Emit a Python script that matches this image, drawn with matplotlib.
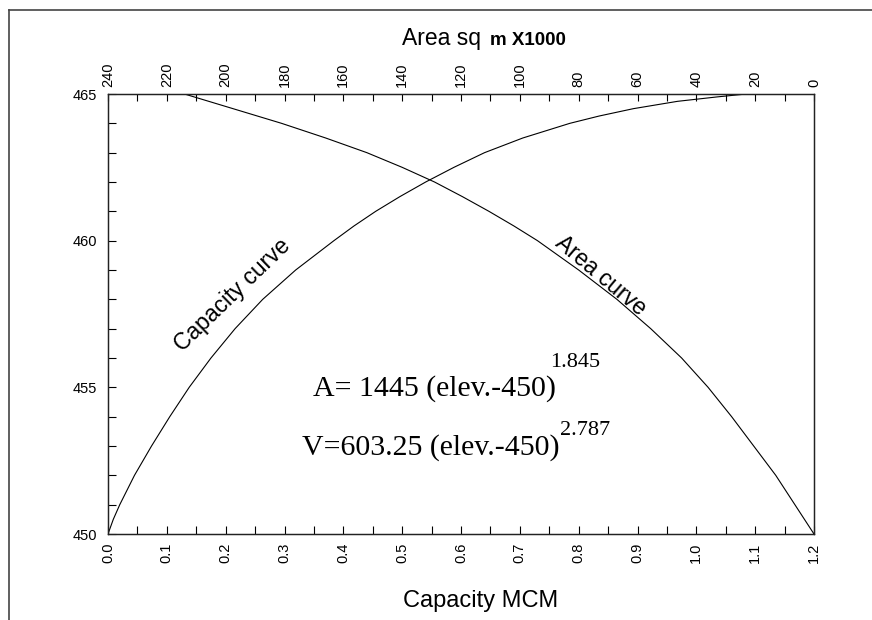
import matplotlib.pyplot as plt
from matplotlib.ticker import MultipleLocator, FormatStrFormatter

# elevation (m) vs capacity (MCM)
cap_elev = [450, 450.5, 451, 452, 453, 454, 455, 456, 457, 458, 459, 460, 460.5,
            461, 461.5, 462, 462.5, 463, 463.5, 464, 464.25, 464.5, 464.75, 464.9, 465]
cap_mcm = [0.0, 0.009, 0.02, 0.045, 0.074, 0.105, 0.138, 0.175, 0.216, 0.263, 0.319, 0.384, 0.418,
           0.455, 0.496, 0.54, 0.588, 0.64, 0.705, 0.785, 0.835, 0.893, 0.968, 1.035, 1.085]

# elevation (m) vs area (sq m x1000)
area_elev = [450, 451, 452, 453, 454, 455, 456, 457, 458, 459, 460,
             460.5, 461, 461.5, 462, 462.5, 463, 463.5, 464, 464.5, 465]
area_k = [0.0, 6.5, 13.0, 20.5, 28.0, 36.0, 45.0, 55.5, 67.0, 80.0, 94.0,
          102.0, 110.5, 119.5, 129.0, 140.0, 152.0, 166.0, 181.0, 197.5, 214.0]

W, H = 872, 620
fig = plt.figure(figsize=(W / 100, H / 100), dpi=100)
sans = 'Liberation Sans'
serif = 'Liberation Serif'

# axes box in pixels: left 108, right 814, top 94, bottom 534
ax = fig.add_axes([108 / W, 1 - 534 / H, (814 - 108) / W, (534 - 94) / H])
ax.plot(cap_mcm, cap_elev, color='black', lw=0.8)
ax.set_xlim(0, 1.2)
ax.set_ylim(450, 465)
ax.xaxis.set_major_locator(MultipleLocator(0.1))
ax.xaxis.set_minor_locator(MultipleLocator(0.05))
ax.xaxis.set_major_formatter(FormatStrFormatter('%.1f'))
ax.yaxis.set_major_locator(MultipleLocator(5))
ax.yaxis.set_minor_locator(MultipleLocator(1))
ax.tick_params(axis='x', which='both', direction='in', length=5.5, width=0.8,
               top=False, bottom=True, pad=6)
ax.tick_params(axis='y', which='both', direction='in', length=5.5, width=0.8,
               left=True, right=False, pad=8)
for lab in ax.get_xticklabels():
    lab.set_rotation(90)
    lab.set_fontfamily(sans)
    lab.set_fontsize(10.5)
for lab in ax.get_yticklabels():
    lab.set_fontfamily(sans)
    lab.set_fontsize(10.5)

ax2 = ax.twiny()
ax2.plot(area_k, area_elev, color='black', lw=0.8)
ax2.set_xlim(240, 0)
ax2.xaxis.set_major_locator(MultipleLocator(20))
ax2.xaxis.set_minor_locator(MultipleLocator(10))
ax2.xaxis.set_major_formatter(FormatStrFormatter('%d'))
ax2.tick_params(axis='x', which='both', direction='in', length=5, width=0.8, pad=5)
for lab in ax2.get_xticklabels():
    lab.set_rotation(90)
    lab.set_fontfamily(sans)
    lab.set_fontsize(10.5)

for a in (ax, ax2):
    for s in a.spines.values():
        s.set_linewidth(0.9)
        s.set_color('#222222')

# axis titles
fig.text(402 / W, 1 - 45 / H, 'Area sq ', family=sans, fontsize=16.5,
         ha='left', va='baseline')
fig.text(490 / W, 1 - 45 / H, 'm X1000', family=sans, fontsize=13.5,
         fontweight='bold', ha='left', va='baseline')
fig.text(403 / W, 1 - 607 / H, 'Capacity MCM', family=sans, fontsize=17,
         ha='left', va='baseline')

# curve labels
ax.text(0.212, 458.15, 'Capacity curve', family=sans, fontsize=16.5,
        rotation=44, ha='center', va='center')
ax.text(0.837, 458.8, 'Area curve', family=sans, fontsize=16.5,
        rotation=-40, ha='center', va='center')

# equations
fig.text(313 / W, 1 - 396 / H, 'A= 1445 (elev.-450)', family=serif,
         fontsize=21.5, ha='left', va='baseline')
fig.text(550 / W, 1 - 367 / H, '1.845', family=serif, fontsize=16,
         ha='left', va='baseline')
fig.text(302 / W, 1 - 455 / H, 'V=603.25 (elev.-450)', family=serif,
         fontsize=21.5, ha='left', va='baseline')
fig.text(560 / W, 1 - 435 / H, '2.787', family=serif, fontsize=16,
         ha='left', va='baseline')

# outer frame lines (left and top)
fig.add_artist(plt.Line2D([9 / W, 9 / W], [0, 1 - 10 / H], color='#444444',
                          lw=1.2, transform=fig.transFigure))
fig.add_artist(plt.Line2D([9 / W, 1], [1 - 10 / H, 1 - 10 / H], color='#444444',
                          lw=1.2, transform=fig.transFigure))

fig.savefig('out.png', dpi=100)
